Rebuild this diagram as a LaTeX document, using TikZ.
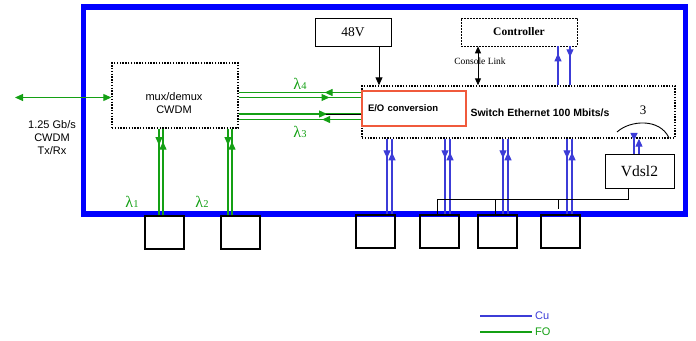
\documentclass[tikz,border=0pt]{standalone}
\usepackage{fontspec}
\setmainfont{Liberation Serif}
\setsansfont{Liberation Sans}
\usetikzlibrary{arrows.meta,decorations.markings}
\definecolor{frameblue}{RGB}{0,0,255}
\definecolor{cublue}{RGB}{60,60,215}
\definecolor{fogreen}{RGB}{20,160,20}
\definecolor{eored}{RGB}{240,90,60}

\begin{document}
\begin{tikzpicture}[x=1pt,y=-1pt,
  box/.style={draw,line width=0.9pt,inner sep=0pt},
  dotbox/.style={draw,line width=1.4pt,dash pattern=on 1.4pt off 1.4pt,inner sep=0pt},
  port/.style={draw,line width=2pt,minimum width=39pt,minimum height=33pt,inner sep=0pt},
  fo/.style={fogreen,line width=1.1pt},
  cu/.style={cublue,line width=1.1pt},
  midarrow/.style={postaction={decorate},decoration={markings,mark=at position #1 with {\arrow{Triangle[length=8pt,width=7pt]}}}},
  lam/.style={text=fogreen,font=\fontsize{16}{16}\selectfont,inner sep=0pt},
  sans/.style={font=\sffamily\fontsize{#1}{13}\selectfont},
]
  \useasboundingbox (0,0) rectangle (696,340);
  % cadre
  \draw[frameblue,line width=5.5pt] (83.5,7.2) rectangle (685.5,214);

  % blocs
  \node[dotbox,minimum width=126pt,minimum height=65pt] (mux) at (175,95.5) {};
  \node[sans=11,align=center] (muxtxt) at (174,103.5) {mux/demux\\CWDM};
  \node[sans=11,align=center] (txrx) at (52,138) {1.25 Gb/s\\CWDM\\Tx/Rx};
  \node[box,minimum width=76pt,minimum height=28pt,font=\fontsize{13.5}{14}\selectfont] (v48) at (353,32) {48V};
  \node[draw,line width=0.7pt,dash pattern=on 2pt off 1pt,inner sep=0pt,minimum width=116pt,minimum height=28pt,font=\bfseries\fontsize{11.5}{12}\selectfont] (ctrl) at (519,32) {Controller};
  \node[dotbox,minimum width=313pt,minimum height=52pt] (sw) at (518.5,112) {};
  \node[font=\sffamily\bfseries\fontsize{10.5}{12}\selectfont] (swtxt) at (540,113) {Switch Ethernet 100 Mbits/s};
  \node[draw=eored,line width=1.2pt,minimum height=35pt,text width=92pt,inner xsep=6pt,align=left,font=\sffamily\bfseries\fontsize{9.5}{11}\selectfont] (eo) at (414,108.5) {E/O conversion};
  \node[box,minimum width=69pt,minimum height=34pt,font=\fontsize{15.5}{16}\selectfont] (vdsl) at (639.5,171) {Vdsl2};

  % ports
  \node[port] (b1) at (164.5,232.5) {};
  \node[port] (b2) at (240,232.5) {};
  \node[port] (b3) at (375.5,231.5) {};
  \node[port] (b4) at (439.5,231.5) {};
  \node[port] (b5) at (497.5,231.5) {};
  \node[port] (b6) at (560.5,231.5) {};

  % fibre
  \coordinate (fiber) at (15,97.5);
  \draw[fo,{Triangle[length=8pt,width=7pt]}-{Triangle[length=8pt,width=7pt]}] (fiber) -- (fiber -| mux.west);
  \foreach \b/\s in {b1/-5.5,b2/-12} {
    \draw[fo,midarrow=0.19] ([xshift=\s pt]\b.north |- mux.south) -- ([xshift=\s pt]\b.north);
    \draw[fo,midarrow=0.85] ([xshift=\s pt+4pt]\b.north) -- ([xshift=\s pt+4pt]\b.north |- mux.south);
  }
  \draw[fo,midarrow=0.3] ([yshift=16pt]eo.west) -- ([yshift=16pt]eo.west -| mux.east);
  \draw[fo,midarrow=0.74] ([yshift=11pt]eo.west -| mux.east) -- ([yshift=11pt]eo.west);
  \draw[fo,midarrow=0.72] ([yshift=-5.5pt]eo.west -| mux.east) -- ([yshift=-5.5pt]eo.west);
  \draw[line width=0.9pt] ([yshift=-5.5pt]eo.west) -- ++(-35,0);
  \draw[fo,midarrow=0.32] ([yshift=-11pt]eo.west) -- ([yshift=-11pt]eo.west -| mux.east);
  \node[lam] (l1) at (132,202) {λ{\fontsize{10.5}{10}\selectfont 1}};
  \node[lam] (l2) at (202,202) {λ{\fontsize{10.5}{10}\selectfont 2}};
  \node[lam] (l4) at (300,84) {λ{\fontsize{10.5}{10}\selectfont 4}};
  \node[lam] (l3) at (300,132) {λ{\fontsize{10.5}{10}\selectfont 3}};

  % alimentation et console
  \draw[line width=0.9pt,-{Triangle[length=8pt,width=7pt]}] ([xshift=26pt]v48.south) -- ([xshift=26pt]v48.south |- sw.north);
  \draw[line width=0.9pt,{Triangle[length=7pt,width=6pt]}-{Triangle[length=7pt,width=6pt]}] ([xshift=-41pt]ctrl.south) -- ([xshift=-41pt]ctrl.south |- sw.north);
  \node[font=\fontsize{9.5}{10}\selectfont,inner sep=0pt] (cl) at (480,61) {Console Link};

  % cuivre
  \draw[cu,midarrow=0.82] ([xshift=39pt]ctrl.south |- sw.north) -- ([xshift=39pt]ctrl.south);
  \draw[cu,midarrow=0.28] ([xshift=51pt]ctrl.south) -- ([xshift=51pt]ctrl.south |- sw.north);
  \foreach \b/\s in {b3/11.5,b4/5.5,b5/5.5,b6/6.5} {
    \draw[cu,midarrow=0.26] ([xshift=\s pt]\b.north |- sw.south) -- ([xshift=\s pt]\b.north);
    \draw[cu,midarrow=0.82] ([xshift=\s pt+5pt]\b.north) -- ([xshift=\s pt+5pt]\b.north |- sw.south);
  }
  \draw[cu,midarrow=0.15] ([xshift=-5.5pt]vdsl.north |- sw.south) -- ([xshift=-5.5pt]vdsl.north);
  \draw[cu,-{Triangle[length=8pt,width=7pt]}] ([xshift=-0.5pt]vdsl.north) -- ([xshift=-0.5pt]vdsl.north |- sw.south);
  \draw[line width=0.9pt] (617,132) .. controls (630,120) and (660,118) .. (669,138);
  \node[font=\fontsize{13}{13}\selectfont] (three) at (643,110) {3};

  % bus vdsl
  \coordinate (bus) at (0,199);
  \draw[line width=0.9pt] ([xshift=-11.5pt]vdsl.south) |- ([xshift=-2.5pt]b4.north |- bus) -- ([xshift=-2.5pt]b4.north);
  \draw[line width=0.9pt] ([xshift=-2.5pt]b5.north |- bus) -- ([xshift=-2.5pt]b5.north);
  \draw[line width=0.9pt] ([xshift=-2.5pt]b6.north |- bus) -- ([xshift=-2.5pt,yshift=5pt]b6.north);

  % legende
  \coordinate (cuL) at (480,316);
  \coordinate (foL) at (480,332);
  \node[sans=11,text=cublue,anchor=west,inner sep=3pt] (lgcu) at (532,316) {Cu};
  \node[sans=11,text=fogreen,anchor=west,inner sep=3pt] (lgfo) at (532,332) {FO};
  \draw[cu] (cuL) -- (lgcu.west);
  \draw[fo] (foL) -- (lgfo.west);
\end{tikzpicture}
\end{document}
